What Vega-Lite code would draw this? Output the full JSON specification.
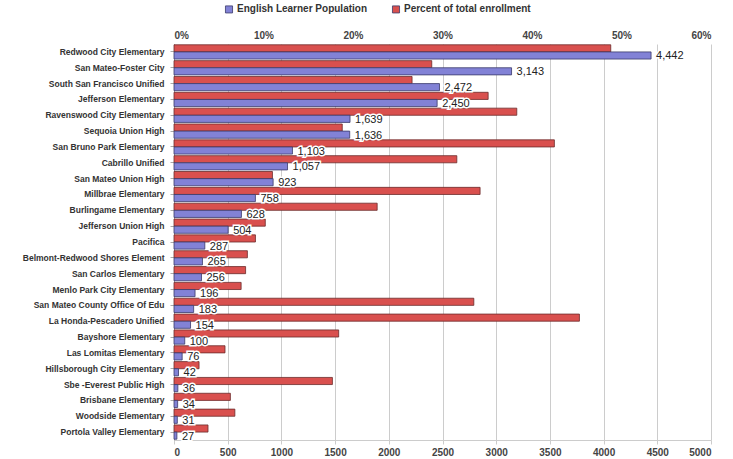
{
  "$schema": "https://vega.github.io/schema/vega-lite/v6.json",
  "width": 537,
  "height": 396,
  "autosize": {"type": "none"},
  "padding": {"left": 174, "top": 44, "right": 22, "bottom": 19},
  "background": "white",
  "config": {
    "font": "Liberation Sans",
    "view": {"stroke": null}
  },
  "data": {
    "values": [
      {"district": "Redwood City Elementary", "el": 4442, "pct": 48.8},
      {"district": "San Mateo-Foster City", "el": 3143, "pct": 28.8},
      {"district": "South San Francisco Unified", "el": 2472, "pct": 26.6},
      {"district": "Jefferson Elementary", "el": 2450, "pct": 35.1},
      {"district": "Ravenswood City Elementary", "el": 1639, "pct": 38.3},
      {"district": "Sequoia Union High", "el": 1636, "pct": 18.8},
      {"district": "San Bruno Park Elementary", "el": 1103, "pct": 42.5},
      {"district": "Cabrillo Unified", "el": 1057, "pct": 31.6},
      {"district": "San Mateo Union High", "el": 923, "pct": 11.0},
      {"district": "Millbrae Elementary", "el": 758, "pct": 34.2},
      {"district": "Burlingame Elementary", "el": 628, "pct": 22.7},
      {"district": "Jefferson Union High", "el": 504, "pct": 10.2},
      {"district": "Pacifica", "el": 287, "pct": 9.1},
      {"district": "Belmont-Redwood Shores Element", "el": 265, "pct": 8.2},
      {"district": "San Carlos Elementary", "el": 256, "pct": 8.0},
      {"district": "Menlo Park City Elementary", "el": 196, "pct": 7.5},
      {"district": "San Mateo County Office Of Edu", "el": 183, "pct": 33.5},
      {"district": "La Honda-Pescadero Unified", "el": 154, "pct": 45.3},
      {"district": "Bayshore Elementary", "el": 100, "pct": 18.4},
      {"district": "Las Lomitas Elementary", "el": 76, "pct": 5.7},
      {"district": "Hillsborough City Elementary", "el": 42, "pct": 2.8},
      {"district": "Sbe -Everest Public High", "el": 36, "pct": 17.7},
      {"district": "Brisbane Elementary", "el": 34, "pct": 6.3},
      {"district": "Woodside Elementary", "el": 31, "pct": 6.8},
      {"district": "Portola Valley Elementary", "el": 27, "pct": 3.8}
    ]
  },
  "encoding": {
    "y": {
      "field": "district",
      "type": "nominal",
      "sort": null,
      "title": null,
      "scale": {"paddingInner": 0.1, "paddingOuter": 0.05},
      "axis": {
        "labelFontSize": 8.5,
        "labelFontWeight": "bold",
        "labelColor": "#333333",
        "labelPadding": 6,
        "tickSize": 4,
        "tickColor": "#aaaaaa",
        "domainColor": "#aaaaaa",
        "labelLimit": 180
      }
    }
  },
  "layer": [
    {
      "mark": {"type": "bar", "stroke": "#6b2b2b", "strokeWidth": 0.8},
      "encoding": {
        "x": {
          "field": "pct",
          "type": "quantitative",
          "title": null,
          "scale": {"domain": [0, 60]},
          "axis": {
            "orient": "top",
            "values": [0, 10, 20, 30, 40, 50, 60],
            "labelExpr": "datum.value + '%'",
            "labelFontSize": 10,
            "labelFontWeight": "bold",
            "labelColor": "#444444",
            "grid": false,
            "domain": false,
            "ticks": false,
            "labelPadding": 4
          }
        },
        "yOffset": {"datum": "a", "scale": {"domain": ["a", "b"], "paddingInner": 0}},
        "color": {
          "datum": "Percent of total enrollment",
          "scale": {
            "domain": ["English Learner Population", "Percent of total enrollment"],
            "range": ["#8282d6", "#d9504e"]
          },
          "legend": {
            "orient": "none",
            "direction": "horizontal",
            "legendX": 50,
            "legendY": -40,
            "title": null,
            "symbolType": "square",
            "symbolSize": 50,
            "symbolStrokeColor": "#555555",
            "symbolStrokeWidth": 0.8,
            "labelFontSize": 10,
            "labelFontWeight": "bold",
            "labelColor": "#333333",
            "columnPadding": 22,
            "labelOffset": 3
          }
        }
      }
    },
    {
      "encoding": {
        "x": {
          "field": "el",
          "type": "quantitative",
          "title": null,
          "scale": {"domain": [0, 5000]},
          "axis": {
            "orient": "bottom",
            "values": [0, 500, 1000, 1500, 2000, 2500, 3000, 3500, 4000, 4500, 5000],
            "format": "d",
            "labelFontSize": 10,
            "labelFontWeight": "bold",
            "labelColor": "#444444",
            "grid": true,
            "gridColor": "#cccccc",
            "domainColor": "#cccccc",
            "tickColor": "#cccccc",
            "tickSize": 4,
            "labelPadding": 3
          }
        },
        "yOffset": {"datum": "b", "scale": {"domain": ["a", "b"], "paddingInner": 0}}
      },
      "layer": [
        {
          "mark": {"type": "bar", "stroke": "#3a3a6a", "strokeWidth": 0.8},
          "encoding": {
            "color": {
              "datum": "English Learner Population",
              "scale": {
                "domain": ["English Learner Population", "Percent of total enrollment"],
                "range": ["#8282d6", "#d9504e"]
              }
            }
          }
        },
        {
          "mark": {"type": "text", "align": "left", "baseline": "middle", "dx": 5, "dy": 1, "fontSize": 11, "color": "#222222", "stroke": "white", "strokeWidth": 3, "strokeOpacity": 1},
          "encoding": {"text": {"field": "el", "type": "quantitative", "format": ","}}
        },
        {
          "mark": {"type": "text", "align": "left", "baseline": "middle", "dx": 5, "dy": 1, "fontSize": 11, "color": "#222222"},
          "encoding": {"text": {"field": "el", "type": "quantitative", "format": ","}}
        }
      ]
    }
  ],
  "resolve": {"scale": {"x": "independent"}}
}
